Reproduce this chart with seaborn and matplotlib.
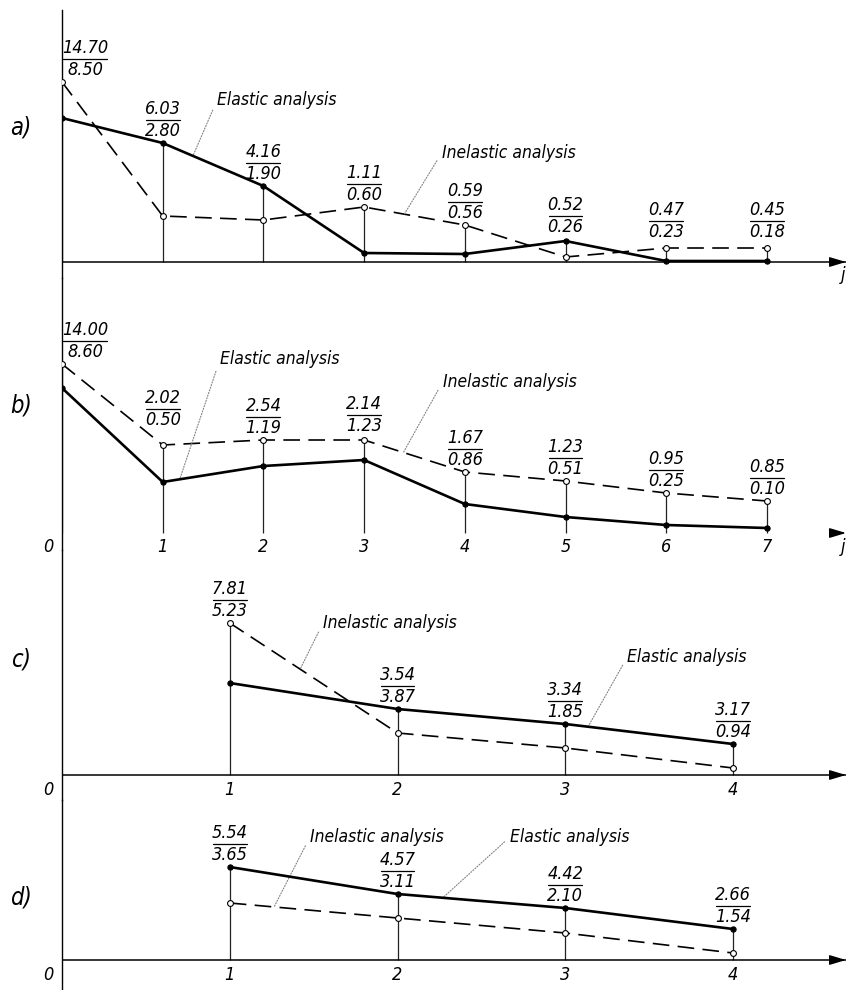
import numpy as np
import matplotlib
matplotlib.use("Agg")
import matplotlib.pyplot as plt
import seaborn as sns
from matplotlib.lines import Line2D
from matplotlib.transforms import IdentityTransform

# span numbers j
j_ab = [0, 1, 2, 3, 4, 5, 6, 7]
j_cd = [1, 2, 3, 4]

# curve heights (arbitrary units)
a_elastic = [14.4, 11.9, 7.6, 0.9, 0.8, 2.1, 0.1, 0.1]
a_inelastic = [18.0, 4.6, 4.2, 5.5, 3.7, 0.5, 1.4, 1.4]
b_elastic = [14.5, 5.1, 6.7, 7.3, 2.9, 1.6, 0.8, 0.5]
b_inelastic = [16.9, 8.8, 9.3, 9.3, 6.1, 5.2, 4.0, 3.2]
c_elastic = [9.2, 6.6, 5.1, 3.1]
c_inelastic = [15.2, 4.2, 2.7, 0.7]
d_elastic = [9.3, 6.6, 5.2, 3.1]
d_inelastic = [5.7, 4.2, 2.7, 0.7]

# fraction labels (numerator / denominator)
a_top = ["14.70", "6.03", "4.16", "1.11", "0.59", "0.52", "0.47", "0.45"]
a_bot = ["8.50", "2.80", "1.90", "0.60", "0.56", "0.26", "0.23", "0.18"]
b_top = ["14.00", "2.02", "2.54", "2.14", "1.67", "1.23", "0.95", "0.85"]
b_bot = ["8.60", "0.50", "1.19", "1.23", "0.86", "0.51", "0.25", "0.10"]
c_top = ["7.81", "3.54", "3.34", "3.17"]
c_bot = ["5.23", "3.87", "1.85", "0.94"]
d_top = ["5.54", "4.57", "4.42", "2.66"]
d_bot = ["3.65", "3.11", "2.10", "1.54"]

sns.set_style("white")
TXT = dict(family="DejaVu Sans", style="italic", stretch="condensed", color="black")

W, H = 846, 990
fig = plt.figure(figsize=(W / 100, H / 100), dpi=100)
pairs = []


def make_axes(top_px, bot_px, axis_px, unit_px):
    ax = fig.add_axes([62 / W, 1 - bot_px / H, 784 / W, (bot_px - top_px) / H])
    ax.set_xlim(0, 784 / unit_px)
    ax.set_ylim((axis_px - bot_px) / 10, (axis_px - top_px) / 10)
    ax.set_xticks([])
    ax.set_yticks([])
    for s in ["top", "right", "bottom"]:
        ax.spines[s].set_visible(False)
    ax.spines["left"].set_color("black")
    ax.spines["left"].set_linewidth(1.0)
    ax.patch.set_alpha(0)
    return ax


def draw_curves(ax, xs, el, inel):
    top = np.maximum(el, inel)
    ax.vlines(xs, 0, top, color="#222222", lw=0.9, zorder=1)
    sns.lineplot(x=xs, y=inel, ax=ax, color="black", lw=1.2, linestyle=(0, (10, 5)),
                 marker="o", ms=4.2, mfc="white", mec="black", mew=0.8, zorder=3)
    sns.lineplot(x=xs, y=el, ax=ax, color="black", lw=1.9, marker="o", ms=3.8,
                 mfc="black", mec="black", zorder=4)


def draw_fracs(ax, xs, el, inel, tops, bots, nudge=None, first_dx=0):
    top = np.maximum(el, inel)
    for i, (x, y, t, b) in enumerate(zip(xs, top, tops, bots)):
        off = 23 + (nudge or {}).get(i, 0)
        dx = first_dx if (i == 0 and x == 0) else 0
        t1 = ax.annotate(t, (x, y), xytext=(dx, off + 2), textcoords="offset pixels",
                         ha="center", va="bottom", fontsize=13, **TXT)
        t2 = ax.annotate(b, (x, y), xytext=(dx, off - 2), textcoords="offset pixels",
                         ha="center", va="top", fontsize=13, **TXT)
        pairs.append((t1, t2))


def axis_arrow(ax, with_line=True):
    if with_line:
        ax.axhline(0, color="black", lw=1.1, zorder=2)
    ax.annotate("", xy=(1.0, 0), xycoords=("axes fraction", "data"),
                xytext=(1.0 - 14 / 784, 0), textcoords=("axes fraction", "data"),
                arrowprops=dict(arrowstyle="-|>,head_length=1.0,head_width=0.3",
                                color="black", lw=1.0, shrinkA=0, shrinkB=0,
                                mutation_scale=10))


def leader(ax, text, target, pos):
    ax.annotate(text, xy=target, xytext=pos, ha="left", va="center", fontsize=12.5,
                arrowprops=dict(arrowstyle="-", color="0.5", lw=0.8, linestyle=(0, (1, 1.5)),
                                shrinkA=2, shrinkB=0, relpos=(0, 0.5)), **TXT)


def tick_labels(ax, xs, ypos):
    for x in xs:
        ax.text(x, ypos, str(x), ha="center", va="center", fontsize=13, clip_on=False, **TXT)


# ---- a) ----
ax_a = make_axes(10, 278, 262, 100.7)
draw_curves(ax_a, j_ab, a_elastic, a_inelastic)
draw_fracs(ax_a, j_ab, a_elastic, a_inelastic, a_top, a_bot, nudge={5: 2, 6: 4, 7: 4}, first_dx=23)
axis_arrow(ax_a)
leader(ax_a, "Elastic analysis", (1.30, 10.6), (1.54, 16.2))
leader(ax_a, "Inelastic analysis", (3.40, 4.8), (3.77, 10.9))
ax_a.text(7.76, -1.3, "j", ha="center", va="center", fontsize=13, clip_on=False, **TXT)

# ---- b) ----
ax_b = make_axes(278, 550, 533, 100.7)
draw_curves(ax_b, j_ab, b_elastic, b_inelastic)
draw_fracs(ax_b, j_ab, b_elastic, b_inelastic, b_top, b_bot, nudge={1: 13, 3: 2}, first_dx=23)
axis_arrow(ax_b, with_line=False)
leader(ax_b, "Elastic analysis", (1.17, 5.4), (1.57, 17.4))
leader(ax_b, "Inelastic analysis", (3.39, 8.05), (3.78, 15.1))
tick_labels(ax_b, j_ab[1:], -1.4)
ax_b.text(-0.14, -1.4, "0", ha="center", va="center", fontsize=13, clip_on=False, **TXT)
ax_b.text(7.76, -1.4, "j", ha="center", va="center", fontsize=13, clip_on=False, **TXT)

# ---- c) ----
ax_c = make_axes(550, 800, 775, 167.75)
draw_curves(ax_c, j_cd, c_elastic, c_inelastic)
draw_fracs(ax_c, j_cd, c_elastic, c_inelastic, c_top, c_bot)
axis_arrow(ax_c)
leader(ax_c, "Inelastic analysis", (1.42, 10.6), (1.556, 15.2))
leader(ax_c, "Elastic analysis", (3.136, 4.83), (3.37, 11.8))
tick_labels(ax_c, j_cd, -1.5)
ax_c.text(-0.083, -1.5, "0", ha="center", va="center", fontsize=13, clip_on=False, **TXT)

# ---- d) ----
ax_d = make_axes(800, 990, 960, 167.75)
draw_curves(ax_d, j_cd, d_elastic, d_inelastic)
draw_fracs(ax_d, j_cd, d_elastic, d_inelastic, d_top, d_bot)
axis_arrow(ax_d)
leader(ax_d, "Inelastic analysis", (1.264, 5.3), (1.478, 12.3))
leader(ax_d, "Elastic analysis", (2.27, 6.22), (2.67, 12.3))
tick_labels(ax_d, j_cd, -1.5)
ax_d.text(-0.083, -1.5, "0", ha="center", va="center", fontsize=13, clip_on=False, **TXT)

# panel letters
for letter, ypx in [("a)", 128), ("b)", 405), ("c)", 660), ("d)", 898)]:
    fig.text(21 / W, 1 - ypx / H, letter, ha="center", va="center", fontsize=17, **TXT)

# fraction bars under each numerator
fig.canvas.draw()
renderer = fig.canvas.get_renderer()
for t1, t2 in pairs:
    b1 = t1.get_window_extent(renderer)
    b2 = t2.get_window_extent(renderer)
    x0 = min(b1.x0, b2.x0) + 1
    x1 = max(b1.x1, b2.x1) - 1
    yb = (b1.y0 + b2.y1) / 2
    fig.add_artist(Line2D([x0, x1], [yb, yb], transform=IdentityTransform(),
                          color="black", lw=0.9))

fig.savefig("out.png", dpi=100)
